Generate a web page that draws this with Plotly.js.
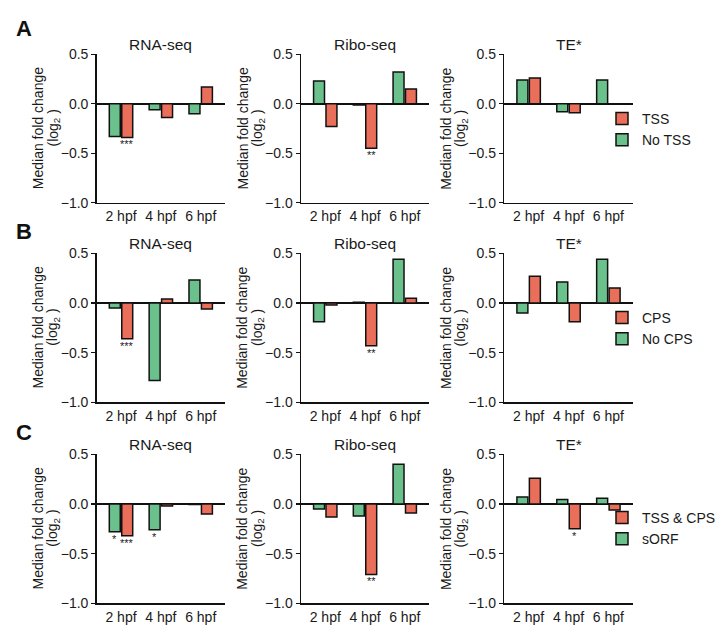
<!DOCTYPE html>
<html>
<head>
<meta charset="utf-8">
<script src="https://cdn.plot.ly/plotly-3.0.1.min.js"></script>
<style>html,body{margin:0;padding:0;background:#fff;}#chart{width:723px;height:637px;}</style>
</head>
<body>
<div id="chart"></div>
<script>
// ---- data ----
const categories = ["2 hpf", "4 hpf", "6 hpf"];
const panelTitles = ["RNA-seq", "Ribo-seq", "TE*"];
const rowLetters = ["A", "B", "C"];
const redNames = ["TSS", "CPS", "TSS & CPS"];
const greenNames = ["No TSS", "No CPS", "sORF"];
const yTitleLines = ["Median fold change", "(log<sub>2</sub> )"];
const yTickVals = [-1, -0.5, 0, 0.5];
const yTickText = ["\u22121.0", "\u22120.5", "0.0", "0.5"];

// Row A (TSS)
const A_RNA_green = [-0.33, -0.06, -0.10];
const A_RNA_red = [-0.34, -0.14, 0.17];
const A_Ribo_green = [0.23, -0.013, 0.32];
const A_Ribo_red = [-0.23, -0.45, 0.15];
const A_TE_green = [0.24, -0.08, 0.24];
const A_TE_red = [0.26, -0.09, null];
// Row B (CPS)
const B_RNA_green = [-0.05, -0.78, 0.23];
const B_RNA_red = [-0.36, 0.04, -0.06];
const B_Ribo_green = [-0.19, 0.007, 0.44];
const B_Ribo_red = [-0.02, -0.43, 0.047];
const B_TE_green = [-0.10, 0.21, 0.44];
const B_TE_red = [0.27, -0.19, 0.15];
// Row C (TSS & CPS vs sORF)
const C_RNA_green = [-0.28, -0.26, -0.005];
const C_RNA_red = [-0.32, -0.02, -0.10];
const C_Ribo_green = [-0.05, -0.12, 0.40];
const C_Ribo_red = [-0.13, -0.71, -0.09];
const C_TE_green = [0.07, 0.045, 0.057];
const C_TE_red = [0.26, -0.25, -0.06];

// significance marks
const A_RNA_green_sig = ["", "", ""], A_RNA_red_sig = ["***", "", ""];
const A_Ribo_green_sig = ["", "", ""], A_Ribo_red_sig = ["", "**", ""];
const A_TE_green_sig = ["", "", ""], A_TE_red_sig = ["", "", ""];
const B_RNA_green_sig = ["", "", ""], B_RNA_red_sig = ["***", "", ""];
const B_Ribo_green_sig = ["", "", ""], B_Ribo_red_sig = ["", "**", ""];
const B_TE_green_sig = ["", "", ""], B_TE_red_sig = ["", "", ""];
const C_RNA_green_sig = ["*", "*", ""], C_RNA_red_sig = ["***", "", ""];
const C_Ribo_green_sig = ["", "", ""], C_Ribo_red_sig = ["", "**", ""];
const C_TE_green_sig = ["", "", ""], C_TE_red_sig = ["", "*", ""];

const panels = [
  [[A_RNA_green, A_RNA_red, A_RNA_green_sig, A_RNA_red_sig],
   [A_Ribo_green, A_Ribo_red, A_Ribo_green_sig, A_Ribo_red_sig],
   [A_TE_green, A_TE_red, A_TE_green_sig, A_TE_red_sig]],
  [[B_RNA_green, B_RNA_red, B_RNA_green_sig, B_RNA_red_sig],
   [B_Ribo_green, B_Ribo_red, B_Ribo_green_sig, B_Ribo_red_sig],
   [B_TE_green, B_TE_red, B_TE_green_sig, B_TE_red_sig]],
  [[C_RNA_green, C_RNA_red, C_RNA_green_sig, C_RNA_red_sig],
   [C_Ribo_green, C_Ribo_red, C_Ribo_green_sig, C_Ribo_red_sig],
   [C_TE_green, C_TE_red, C_TE_green_sig, C_TE_red_sig]]
];

// ---- style / layout ----
const W = 723, H = 637;
const GREEN = "rgb(106,193,139)", RED = "rgb(234,111,91)";
const FONT = "Liberation Sans, Arial, sans-serif";
const TXT = "#1a1a1a";
const FS = 14;
const colPx = [[96.7, 225], [301, 429], [504.3, 632.7]];
const rowPx = [[54.3, 202.7], [253.3, 402.3], [454.3, 603.3]];
const yTitleOffsets = [59, 43.7]; // px left of y axis, line centres
const legendPx = [[602, 103], [602, 302], [602, 502]];
const letterPx = [[24, 29], [24, 232], [24, 432]];
const barShift = 6.25;

const data = [];
const layout = {
  width: W, height: H,
  margin: {l: 0, r: 0, t: 0, b: 0},
  paper_bgcolor: "#fff", plot_bgcolor: "#fff",
  font: {family: FONT, size: FS, color: TXT},
  barmode: "group", bargap: 0.375, bargroupgap: 0.12,
  annotations: []
};

function addSig(values, sigs, xa, ya, shift) {
  for (let k = 0; k < categories.length; k++) {
    if (!sigs[k]) continue;
    const v = values[k];
    layout.annotations.push({
      text: sigs[k], xref: xa, yref: ya, x: categories[k], y: v,
      xshift: shift, yanchor: v < 0 ? "top" : "bottom", yshift: v < 0 ? 1 : -1,
      xanchor: "center", showarrow: false, font: {size: 11, color: TXT}
    });
  }
}

for (let r = 0; r < 3; r++) {
  const legName = r === 0 ? "legend" : "legend" + (r + 1);
  for (let c = 0; c < 3; c++) {
    const i = r * 3 + c + 1;
    const xa = "x" + (i === 1 ? "" : i), ya = "y" + (i === 1 ? "" : i);
    const p = panels[r][c];
    const showLeg = c === 2;
    data.push({
      type: "bar", x: categories, y: p[0], name: greenNames[r],
      xaxis: xa, yaxis: ya, legend: legName, showlegend: showLeg,
      marker: {color: GREEN, line: {color: "#111", width: 1.5}}, hoverinfo: "x+y+name"
    });
    data.push({
      type: "bar", x: categories, y: p[1], name: redNames[r],
      xaxis: xa, yaxis: ya, legend: legName, showlegend: showLeg,
      marker: {color: RED, line: {color: "#111", width: 1.5}}, hoverinfo: "x+y+name"
    });
    addSig(p[0], p[2], xa, ya, -barShift);
    addSig(p[1], p[3], xa, ya, barShift);
    const xKey = "xaxis" + (i === 1 ? "" : i), yKey = "yaxis" + (i === 1 ? "" : i);
    layout[xKey] = {
      domain: [colPx[c][0] / W, colPx[c][1] / W], anchor: ya,
      type: "category", categoryarray: categories, range: [-0.61, 2.61],
      showline: true, linecolor: "#111", linewidth: 1.5, ticks: "",
      showgrid: false, zeroline: false, tickfont: {size: FS, color: TXT}, fixedrange: true
    };
    layout[yKey] = {
      domain: [1 - rowPx[r][1] / H, 1 - rowPx[r][0] / H], anchor: xa,
      range: [-1, 0.5], tickvals: yTickVals, ticktext: yTickText,
      ticks: "outside", ticklen: 4, tickwidth: 1.2, tickcolor: "#111",
      showline: true, linecolor: "#111", linewidth: 1.5,
      showgrid: false, zeroline: true, zerolinecolor: "#111", zerolinewidth: 1.5,
      tickfont: {size: FS, color: TXT}, fixedrange: true
    };
    // y-axis title (two lines, placed relative to the axis)
    for (let L = 0; L < 2; L++) {
      layout.annotations.push({
        text: yTitleLines[L], xref: xa + " domain", yref: ya + " domain",
        x: 0, y: 0.5, xshift: -yTitleOffsets[L], xanchor: "center", yanchor: "middle",
        textangle: -90, showarrow: false, font: {size: FS, color: TXT}
      });
    }
    layout.annotations.push({
      text: panelTitles[c], xref: xa + " domain", yref: ya + " domain",
      x: 0.5, y: 1, xanchor: "center", yanchor: "bottom", yshift: -1,
      showarrow: false, font: {size: 15.5, color: TXT}
    });
  }
  layout[legName] = {
    x: legendPx[r][0] / W, y: 1 - legendPx[r][1] / H, xanchor: "left", yanchor: "top",
    traceorder: "reversed", bgcolor: "rgba(0,0,0,0)", font: {size: FS, color: TXT},
    itemwidth: 30
  };
  layout.annotations.push({
    text: "<b>" + rowLetters[r] + "</b>", xref: "paper", yref: "paper",
    x: letterPx[r][0] / W, y: 1 - letterPx[r][1] / H, xanchor: "center", yanchor: "middle",
    showarrow: false, font: {size: 22, color: "#111"}
  });
}

Plotly.newPlot("chart", data, layout, {displayModeBar: false, staticPlot: true});
</script>
</body>
</html>
